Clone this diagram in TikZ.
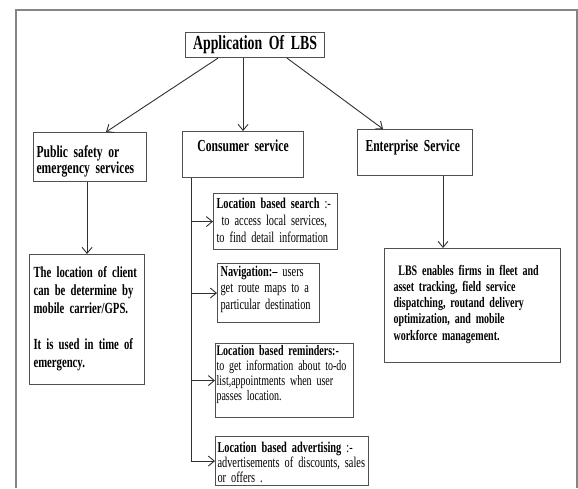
\documentclass[tikz,border=0pt]{standalone}
\usepackage{fontspec}
\setmainfont{Liberation Serif}[FakeStretch=0.69]
\usetikzlibrary{arrows.meta}

\definecolor{framegray}{HTML}{858585}
\definecolor{boxgray}{HTML}{505050}
\definecolor{linegray}{HTML}{303030}

\newcommand\boxfont[1]{\fontsize{15pt}{#1}\selectfont}
\newcommand\headfont{\bfseries\fontsize{16.8pt}{16pt}\selectfont}

\tikzset{
  box/.style={draw=boxgray, line width=1.1pt, anchor=north west, align=left,
    inner ysep=0pt, font=\boxfont{16pt}},
  arr/.style={draw=linegray, line width=0.9pt,
    -{Straight Barb[length=6pt,width=10pt]}},
}

\begin{document}
\begin{tikzpicture}[x=1pt, y=-1pt]
\useasboundingbox (0,0) rectangle (578,488);

% Frame
\draw[framegray, line width=1.5pt] (16,488) -- (16,10) -- (577,10) -- (577,488);

% Root
\node[box, align=center, text width=139pt, inner xsep=0pt, text height=17pt, text depth=8pt,
  font=\bfseries\fontsize{20pt}{22pt}\selectfont] (title) at (185,32) {Application Of LBS};

% First level
\node[box, font=\headfont, text width=107pt, inner xsep=3pt,
  text height=24.5pt, text depth=24.5pt] (public) at (33,132)
  {Public safety or\\emergency services};
\node[box, align=center, font=\headfont, text width=105pt, inner xsep=8pt,
  text height=19.5pt, text depth=26.5pt] (cons) at (182,131) {Consumer service};
\node[box, font=\headfont, text width=99pt, inner xsep=8pt,
  text height=21.5pt, text depth=24.5pt] (ent) at (357,129) {Enterprise Service};

% Public safety detail
\node[box, font=\bfseries\fontsize{15.5pt}{18pt}\selectfont, text width=107pt, inner xsep=4pt,
  text height=22.5pt, text depth=107.5pt] (client) at (29,254)
  {The location of client\\can be determine by\\mobile carrier/GPS.\\[18pt]
   It is used in time of\\emergency.};

% Consumer services
\node[box, font=\boxfont{17pt}, text width=118pt, inner xsep=3pt,
  text height=14.5pt, text depth=41.5pt] (search) at (213,193)
  {\textbf{Location based search} :-\\\ to access local services,\\to find detail information};
\node[box, font=\boxfont{16.5pt}, text width=96pt, inner xsep=3pt,
  text height=12.5pt, text depth=46.5pt] (nav) at (217,263)
  {\textbf{Navigation:--} users\\get route maps to a\\particular destination};
\node[box, font=\fontsize{14.5pt}{15pt}\selectfont, text width=136pt, inner xsep=1pt,
  text height=11.5pt, text depth=62.5pt] (remind) at (215,343)
  {\textbf{Location based reminders:-}\\to get information about to-do\\list,appointments when user\\passes location.};
\node[box, font=\boxfont{15pt}, text width=149pt, inner xsep=2pt,
  text height=15.5pt, text depth=33.5pt] (advert) at (215,436)
  {\textbf{Location based advertising} :-\\advertisements of discounts, sales\\or offers .};

% Enterprise detail
\node[box, font=\bfseries\fontsize{14.5pt}{16.25pt}\selectfont, text width=158pt, inner xsep=9pt,
  text height=26.5pt, text depth=87.5pt] (detail) at (384,248)
  {\ LBS enables firms in fleet and\\asset tracking, field service\\dispatching, routand delivery\\optimization, and mobile\\workforce management.};

% Connectors
\draw[arr] ([xshift=33pt]title.south west) -- ([xshift=73pt]public.north west);
\draw[arr] (cons.north |- title.south) -- (cons.north);
\draw[arr] ([xshift=102pt]title.south west) -- ([xshift=26pt]ent.north west);
\draw[arr] (client.north |- public.south) -- (client.north);

\coordinate (entdrop) at ([xshift=86pt]ent.south west);
\draw[arr] (entdrop) -- (entdrop |- detail.north);

\coordinate (trunk) at ([xshift=9pt]cons.south west);
\draw[arr] (trunk) |- (advert.west);
\foreach \leaf in {search,nav,remind}
  \draw[arr] (trunk |- \leaf.west) -- (\leaf.west);

\end{tikzpicture}
\end{document}
